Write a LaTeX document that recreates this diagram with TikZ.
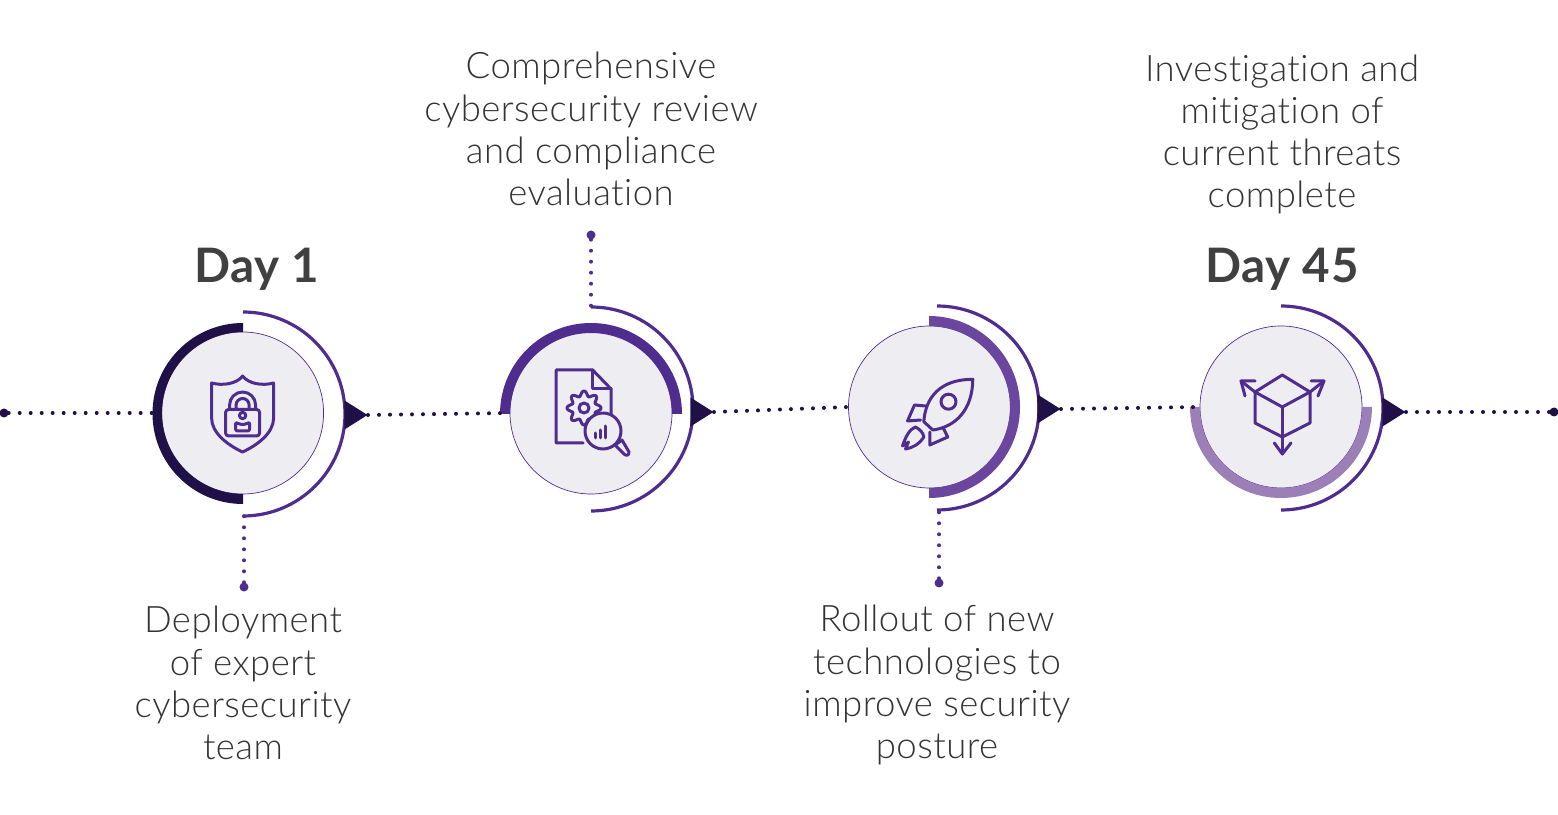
\documentclass[tikz,border=0pt]{standalone}
\usepackage{fontspec}
\setmainfont{Lato Light}[BoldFont={Lato Bold}, Ligatures=NoCommon, LetterSpace=1.3]
\usetikzlibrary{shapes.geometric}
\definecolor{ink}{HTML}{1F1147}
\definecolor{violet}{HTML}{4F2D8F}
\definecolor{midviolet}{HTML}{6A469E}
\definecolor{paleviolet}{HTML}{9D7FB8}
\definecolor{disc}{HTML}{EEEDF1}
\definecolor{textgrey}{HTML}{333335}
\definecolor{daygrey}{HTML}{404042}
\tikzset{
  discnode/.style={circle, draw=violet, line width=.7pt, fill=disc, minimum size=162pt, inner sep=0pt},
  tiptri/.style={isosceles triangle, isosceles triangle stretches, fill=ink, inner sep=0pt, minimum width=29pt, minimum height=23pt, anchor=apex},
  enddot/.style={circle, fill=#1, minimum size=9pt, inner sep=0pt},
  dots/.style={draw=#1, line width=4pt, line cap=round, dash pattern=on 0pt off 11pt},
  caption/.style={align=center, text=textgrey, font=\fontsize{36.5}{42.1}\selectfont, inner sep=0pt},
  daylabel/.style={text=daygrey, font=\fontsize{47.5}{50}\selectfont\bfseries, inner sep=0pt},
  icon/.style={draw=violet, line width=3pt, line join=round, line cap=round},
  outerarc/.style={draw=violet, line width=3.2pt}
}
\begin{document}
\begin{tikzpicture}[x=1pt, y=1pt]
\useasboundingbox (0,0) rectangle (1558,814);

% discs
\node[discnode] (discA) at (242.6,401) {};
\node[discnode] (discB) at (591,401) {};
\node[discnode] (discC) at (929.5,407) {};
\node[discnode] (discD) at (1281,407) {};

% thick rings
\fill[ink] (243,491) arc (90:270:90.5) -- (243,320) arc (270:90:81) -- cycle;
\fill[violet] (500,400) arc (180:0:91) -- (672,400) arc (0:180:81) -- cycle;
\fill[midviolet] (929,498) arc (90:-90:91) -- (929,326) arc (-90:90:81) -- cycle;
\fill[paleviolet] (1190,407) arc (180:360:91) -- (1362,407) arc (360:180:81) -- cycle;

% outer arcs
\draw[outerarc] (243,502) arc (90:-90:102);
\draw[outerarc] (591,507) arc (90:-90:102);
\draw[outerarc] (937,508) arc (90:-90:102);
\draw[outerarc] (1281,508) arc (90:-90:102);

% arrow tips
\node[tiptri] (tipA) at (368,399) {};
\node[tiptri] (tipB) at (714,402) {};
\node[tiptri] (tipC) at (1061,405) {};
\node[tiptri] (tipD) at (1406,402) {};

% line ends
\node[enddot=ink] (startdot) at (4,401) {};
\node[enddot=ink] (enddot) at (1554,402) {};
\node[enddot=violet] (dotA) at (244,227) {};
\node[enddot=violet] (dotB) at (591,579) {};
\node[enddot=violet] (dotC) at (939,231) {};

% dotted connectors
\draw[dots=ink] (startdot) -- (discA.west);
\draw[dots=ink] (tipA.apex) -- (discB.west);
\draw[dots=ink] (tipB.apex) -- (discC.west);
\draw[dots=ink] (tipC.apex) -- (discD.west);
\draw[dots=ink] (tipD.apex) -- (enddot);
\coordinate (arcfootA) at (244,298);
\coordinate (arcfootB) at (591,507);
\coordinate (arcfootC) at (939,304);
\draw[dots=violet] (dotA) -- (arcfootA);
\draw[dots=violet] (dotB) -- (arcfootB);
\draw[dots=violet] (dotC) -- (arcfootC);

% texts
\node[daylabel] (dayA) at (257,545) {Day 1};
\node[daylabel] (dayD) at (1282,545) {Day 45};
\node[caption] (capA) at (243,131) {Deployment\\of expert\\cybersecurity\\team};
\node[caption] (capB) at (591,685) {Comprehensive\\cybersecurity review\\and compliance\\evaluation};
\node[caption] (capC) at (937,129) {Rollout of new\\technologies to\\improve security\\posture};
\node[caption] (capD) at (1282,679.5) {Investigation and\\mitigation of\\current threats\\complete};

% shield icon
\begin{scope}[shift={(discA.center)}]
\draw[icon] (0,37) .. controls (-6,29) and (-20,27) .. (-31,30) -- (-31,-5) .. controls (-31,-20) and (-15,-32) .. (0,-39) .. controls (15,-32) and (31,-20) .. (31,-5) -- (31,30) .. controls (20,27) and (6,29) .. (0,37) -- cycle;
\draw[icon, rounded corners=3pt] (-17,3.5) rectangle (17,-23);
\draw[icon] (-13,3.5) -- (-13,8) arc (180:0:13) -- (13,3.5);
\draw[icon] (-6.5,3.5) -- (-6.5,8) arc (180:0:6.5) -- (6.5,3.5);
\draw[icon] (0,-2.5) circle (3.2);
\draw[icon, rounded corners=2pt] (-7,-9) -- (-3,-11.5) -- (3,-11.5) -- (7,-9) -- (7,-18) -- (-7,-18) -- cycle;
\end{scope}

% document icon
\begin{scope}[shift={(discB.center)}]
\draw[icon] (-8,-30) -- (-35,-30) -- (-35,43) -- (1.7,43) -- (20,24) -- (20,-2);
\draw[icon] (1.7,43) -- (1.7,24) -- (20,24);
\draw[icon] (-7,5) circle (5);
\draw[icon] plot[domain=0:360, samples=121, smooth] ({-7+(14.5+2.5*cos(8*\x))*cos(\x)},{5+(14.5+2.5*cos(8*\x))*sin(\x)});
\draw[icon, fill=disc] (27,-30) -- (31,-27) -- (38,-39) .. controls (38,-43) and (35,-43) .. (33,-41) -- (24,-32) -- cycle;
\draw[icon, fill=disc] (12,-18) circle (18);
\foreach \xa/\ya in {4.7/-20, 9.7/-17, 14.7/-13}
  \draw[icon] (\xa,-25) -- (\xa,\ya);
\end{scope}

% rocket icon
\begin{scope}[shift={(discC.center)}]
\draw[icon] (43.3,27.7) .. controls (11,27.7) and (-4,10) .. (-5.7,-14.7) -- (3.3,-23) .. controls (26,-20) and (43,-3) .. cycle;
\draw[icon] (19,5.3) circle (7.5);
\draw[icon] (-4,1) -- (-15,2) -- (-22,-14) -- (-9,-13);
\draw[icon] (0.3,-25) -- (0.3,-38) -- (18.3,-30) -- (13.7,-21);
\draw[icon] (-27,-39) .. controls (-24,-30) and (-20,-22) .. (-14,-20) .. controls (-10,-22) and (-6,-26) .. (-5.7,-30) .. controls (-10,-37) and (-17,-41) .. (-24,-42) -- (-21,-35) -- cycle;
\end{scope}

% cube icon
\begin{scope}[shift={(discD.center)}]
\draw[icon] (1.3,32) -- (-26,15) -- (-26,-16) -- (1.3,-30) -- (29,-16) -- (29,15) -- cycle;
\draw[icon] (-26,15) -- (1.3,0) -- (29,15);
\draw[icon] (1.3,0) -- (1.3,-47);
\draw[icon] (-6.7,-36) -- (1.3,-47) -- (10,-36);
\draw[icon] (-26,15) -- (-40,26);
\draw[icon] (-26,26) -- (-40,26) -- (-36,11);
\draw[icon] (29,15) -- (43,26);
\draw[icon] (30,26) -- (43,26) -- (37,11);
\end{scope}
\end{tikzpicture}
\end{document}
